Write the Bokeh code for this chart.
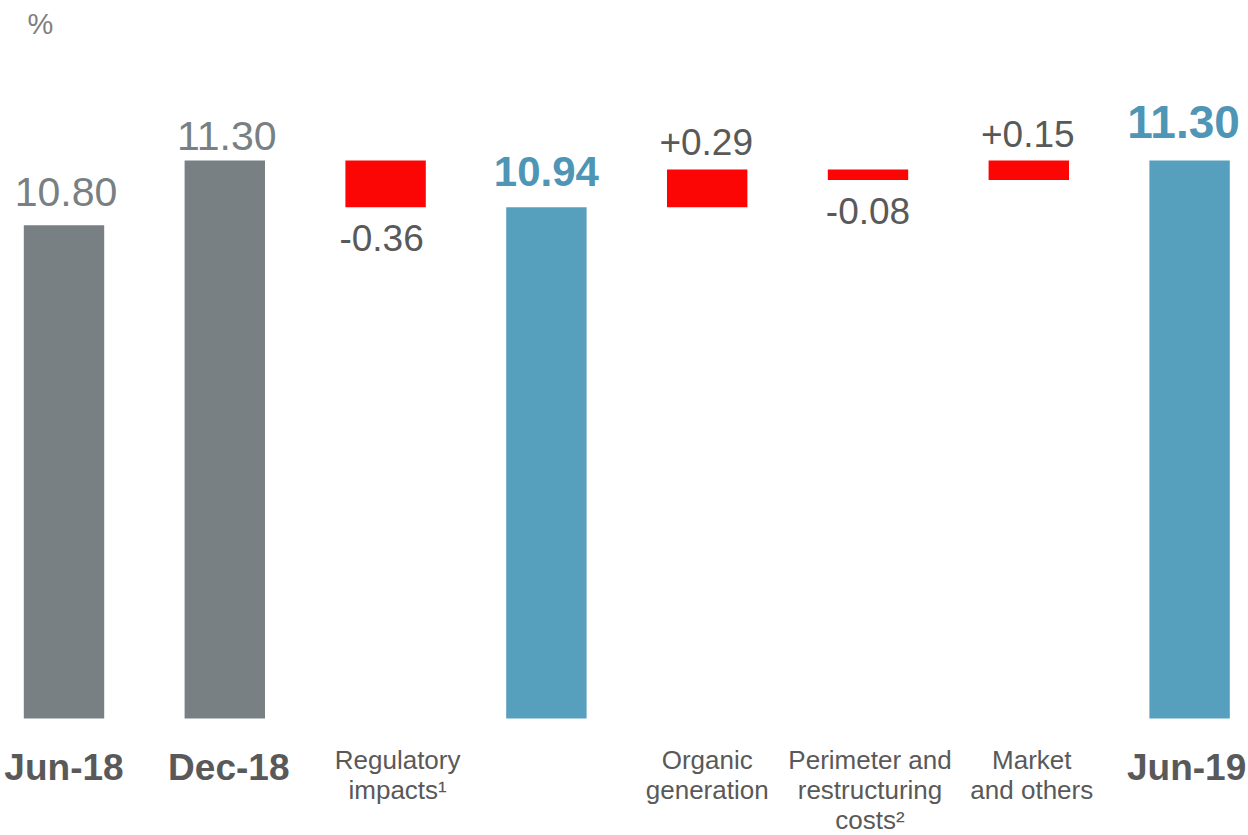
from bokeh.plotting import figure
from bokeh.models import ColumnDataSource, Range1d, Label
from bokeh.core.properties import value
from bokeh.embed import file_html
from bokeh.resources import INLINE

# ---- data ----
categories = ["Jun-18", "Dec-18", "Regulatory\nimpacts\u00b9", "",
              "Organic\ngeneration", "Perimeter and\nrestructuring\ncosts\u00b2",
              "Market\nand others", "Jun-19"]
kinds = ["total", "total", "delta", "total", "delta", "delta", "delta", "total"]
values = [10.80, 11.30, -0.36, 10.94, 0.29, -0.08, 0.15, 11.30]
axis_floor = 7.0
unit_label = "%"

# ---- styles ----
GRAY = "#788083"
BLUE = "#57A0BD"
RED = "#FC0505"
TXT = "#595959"
bar_colors = [GRAY, GRAY, RED, BLUE, RED, RED, RED, BLUE]
val_colors = [GRAY, GRAY, TXT, "#4F95B5", TXT, TXT, TXT, "#4F95B5"]
val_styles = ["normal", "normal", "normal", "bold", "normal", "normal", "normal", "bold"]
val_sizes = ["41px", "41px", "37px", "42px", "37px", "37px", "37px", "46px"]
val_dy = [-33, -24, 31, -36, -28, 31, -26, -38]
val_dx = [2, 2, -4, 0, -1, 0, -1, -6]
cat_bold = [True, True, False, False, False, False, False, True]
cat_dx = [0, 4, 12, 0, 0, 2, 3, -3]

# ---- waterfall geometry ----
xs = list(range(len(categories)))
bottoms, tops = [], []
running = None
for k, v in zip(kinds, values):
    if k == "total":
        bottoms.append(axis_floor)
        tops.append(v)
        running = v
    else:
        b, t = running, running + v
        bottoms.append(min(b, t))
        tops.append(max(b, t))
        running = t

W, H = 1248, 835
px_per_unit = 129.77
px_per_cat = 160.8
floor_px = 718  # canvas px from top
first_px = 63.5
y0 = axis_floor - (H - floor_px) / px_per_unit
y1 = axis_floor + floor_px / px_per_unit
x0 = -first_px / px_per_cat
x1 = x0 + W / px_per_cat

p = figure(width=W, height=H, output_backend="svg", toolbar_location=None,
           x_range=Range1d(x0, x1), y_range=Range1d(y0, y1),
           x_axis_location=None, y_axis_location=None,
           min_border=0, min_border_left=0, min_border_right=0,
           min_border_top=0, min_border_bottom=0)
p.outline_line_color = None
p.grid.visible = False
p.background_fill_color = "white"
p.border_fill_color = "white"

src = ColumnDataSource(dict(x=xs, bottom=bottoms, top=tops, color=bar_colors))
p.vbar(x="x", width=0.5, bottom="bottom", top="top", fill_color="color",
       line_color=None, source=src)

# value labels
lab_x, lab_y, lab_t = [], [], []
for i, (k, v) in enumerate(zip(kinds, values)):
    if k == "total":
        lab_t.append(f"{v:.2f}")
        lab_y.append(tops[i])
    else:
        lab_t.append(f"{v:+.2f}")
        lab_y.append(tops[i] if v > 0 else bottoms[i])
    lab_x.append(xs[i])

for i in range(len(xs)):
    p.text(x=[lab_x[i]], y=[lab_y[i]], text=[lab_t[i]],
           text_font=value("Liberation Sans"), text_font_size=val_sizes[i],
           text_font_style=val_styles[i], text_color=val_colors[i],
           text_align="center", text_baseline="alphabetic",
           x_offset=val_dx[i], y_offset=val_dy[i])

# category labels (one row per line)
for i, cat in enumerate(categories):
    if not cat:
        continue
    lines = cat.split("\n")
    for j, line in enumerate(lines):
        if cat_bold[i]:
            p.text(x=[xs[i]], y=[axis_floor], text=[line],
                   text_font=value("Liberation Sans"), text_font_size="37px",
                   text_font_style="bold", text_color=TXT,
                   text_align="center", text_baseline="alphabetic",
                   x_offset=cat_dx[i], y_offset=49)
        else:
            p.text(x=[xs[i]], y=[axis_floor], text=[line],
                   text_font=value("Liberation Sans"), text_font_size="26px",
                   text_color=TXT, text_align="center", text_baseline="alphabetic",
                   x_offset=cat_dx[i], y_offset=41 + 30 * j)

p.add_layout(Label(x=40, y=H - 23, x_units="screen", y_units="screen", text=unit_label,
                   text_font="Liberation Sans", text_font_size="29px",
                   text_color="#7F7F7F", text_align="center",
                   text_baseline="alphabetic"))

open("out.html", "w").write(file_html(p, INLINE))
